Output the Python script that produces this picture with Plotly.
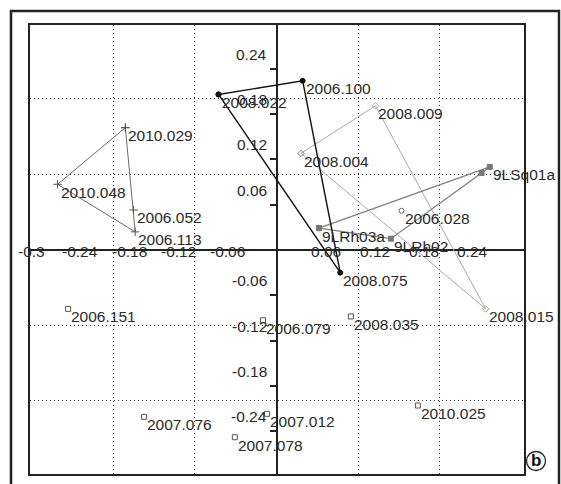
import plotly.graph_objects as go

# ---------------- data ----------------
# group A (thin dark-gray polygon)
grp_a_labels = ["2010.029", "2006.052", "2006.113", "2010.048"]
grp_a_x = [-0.185, -0.175, -0.173, -0.268]
grp_a_y = [0.162, 0.053, 0.024, 0.087]

# group B (black polygon)
grp_b_labels = ["2008.022", "2006.100", "2008.075"]
grp_b_x = [-0.071, 0.032, 0.078]
grp_b_y = [0.206, 0.224, -0.030]

# group C (light-gray polygon)
grp_c_labels = ["2008.004", "2008.009", "2008.015"]
grp_c_x = [0.030, 0.121, 0.256]
grp_c_y = [0.128, 0.191, -0.078]

# group D (gray polygon, square markers)
grp_d_labels = ["9LRh03a", "9LSq01a", "", "9LRh02"]
grp_d_x = [0.052, 0.261, 0.251, 0.140]
grp_d_y = [0.029, 0.110, 0.102, 0.015]

# isolated samples
single_labels = ["2006.151", "2006.079", "2008.035", "2010.025",
                 "2007.076", "2007.012", "2007.078"]
single_x = [-0.255, -0.0165, 0.091, 0.173, -0.162, -0.0116, -0.051]
single_y = [-0.078, -0.093, -0.088, -0.206, -0.221, -0.217, -0.248]

circle_labels = ["2006.028"]
circle_x = [0.153]
circle_y = [0.052]

# axis tick labels
x_tick_vals = [-0.3, -0.24, -0.18, -0.12, -0.06, 0.06, 0.12, 0.18, 0.24]
x_tick_text = ["-0.3", "-0.24", "-0.18", "-0.12", "-0.06", "0.06", "0.12", "0.18", "0.24"]
y_tick_vals = [0.24, 0.18, 0.12, 0.06, -0.06, -0.12, -0.18, -0.24, -0.3]
y_tick_text = ["0.24", "0.18", "0.12", "0.06", "-0.06", "-0.12", "-0.18", "-0.24", "-0.3"]
grid_vals = [-0.2, -0.1, 0.1, 0.2]

X_RANGE = [-0.3017, 0.3029]
Y_RANGE = [-0.2967, 0.298]

FONT = "Liberation Sans, Arial, sans-serif"
FS = 15.5
TXT = "#2a2a2a"

fig = go.Figure()


def closed(v):
    return list(v) + [v[0]]


def poly(xs, ys, color, width, symbol, msize, mcolor, mline=1):
    fig.add_trace(go.Scatter(
        x=closed(xs), y=closed(ys), mode="lines+markers",
        line=dict(color=color, width=width),
        marker=dict(symbol=symbol, size=msize, color=mcolor,
                    line=dict(color=mcolor, width=mline)),
        hoverinfo="skip", cliponaxis=False))


poly(grp_a_x, grp_a_y, "#6a6a6a", 1, "cross-thin", 6, "#555555")
poly(grp_c_x, grp_c_y, "#a8a8a8", 1, "diamond-open", 5, "#a0a0a0")
poly(grp_d_x, grp_d_y, "#808080", 1.3, "square", 5, "#777777")
poly(grp_b_x, grp_b_y, "#111111", 1.4, "circle", 5, "#111111")

fig.add_trace(go.Scatter(
    x=single_x, y=single_y, mode="markers",
    marker=dict(symbol="square-open", size=5, color="#555555",
                line=dict(width=1)), hoverinfo="skip"))
fig.add_trace(go.Scatter(
    x=circle_x, y=circle_y, mode="markers",
    marker=dict(symbol="circle-open", size=5, color="#666666",
                line=dict(width=1)), hoverinfo="skip"))

annotations = []


def add_labels(labels, xs, ys):
    for lab, xv, yv in zip(labels, xs, ys):
        if not lab:
            continue
        annotations.append(dict(
            x=xv, y=yv, xref="x", yref="y", text=lab, showarrow=False,
            xanchor="left", yanchor="middle", xshift=1, yshift=-8,
            font=dict(family=FONT, size=FS, color=TXT)))


add_labels(grp_a_labels, grp_a_x, grp_a_y)
add_labels(grp_b_labels, grp_b_x, grp_b_y)
add_labels(grp_c_labels, grp_c_x, grp_c_y)
add_labels(grp_d_labels, grp_d_x, grp_d_y)
add_labels(single_labels, single_x, single_y)
add_labels(circle_labels, circle_x, circle_y)

for v, t in zip(x_tick_vals, x_tick_text):
    annotations.append(dict(
        x=v, y=0, xref="x", yref="y", text=t, showarrow=False,
        xanchor="center", yanchor="middle", yshift=-2,
        font=dict(family=FONT, size=FS, color=TXT)))
for v, t in zip(y_tick_vals, y_tick_text):
    annotations.append(dict(
        x=0, y=v, xref="x", yref="y", text=t, showarrow=False,
        xanchor="right", yanchor="middle", xshift=-8, yshift=14.5,
        font=dict(family=FONT, size=FS, color=TXT)))

# panel letter
annotations.append(dict(
    x=1.0243, y=0.029, xref="paper", yref="paper", text="<b>b</b>",
    showarrow=False, xanchor="center", yanchor="middle",
    font=dict(family=FONT, size=17, color="#111111")))

zero_frac = (0 - X_RANGE[0]) / (X_RANGE[1] - X_RANGE[0])

GRID = dict(showgrid=True, gridcolor="#333333", griddash="1px,3px", gridwidth=1)

fig.update_layout(
    width=561, height=484, autosize=False,
    margin=dict(l=30, r=37, t=25, b=10, pad=0),
    paper_bgcolor="white", plot_bgcolor="white",
    showlegend=False,
    xaxis=dict(range=X_RANGE, tickmode="array", tickvals=grid_vals,
               showticklabels=False, ticks="", **GRID,
               zeroline=True, zerolinecolor="#222222", zerolinewidth=1.6,
               showline=True, linecolor="#222222", linewidth=2, mirror=True),
    yaxis=dict(range=Y_RANGE, tickmode="array", tickvals=grid_vals,
               showticklabels=False, ticks="", **GRID,
               zeroline=True, zerolinecolor="#222222", zerolinewidth=1.6,
               showline=True, linecolor="#222222", linewidth=2, mirror=True),
    yaxis2=dict(range=Y_RANGE, overlaying="y", anchor="free",
                position=zero_frac, side="left",
                tickmode="array", tickvals=y_tick_vals,
                ticks="outside", ticklen=7, tickwidth=1.5, tickcolor="#222222",
                showticklabels=False, showgrid=False, zeroline=False,
                showline=False),
    annotations=annotations,
    shapes=[
        dict(type="rect", xref="paper", yref="paper",
             x0=(11 - 30) / 494, x1=(559 - 30) / 494,
             y0=(474 - 492) / 449, y1=(474 - 11) / 449,
             line=dict(color="#222222", width=2.5), layer="above"),
        dict(type="circle", xref="paper", yref="paper",
             x0=(526.5 - 30) / 494, x1=(545.5 - 30) / 494,
             y0=(474 - 470.5) / 449, y1=(474 - 451.5) / 449,
             line=dict(color="#222222", width=1.3)),
    ],
)

# invisible trace so yaxis2 is rendered
fig.add_trace(go.Scatter(x=[None], y=[None], yaxis="y2", hoverinfo="skip"))

fig.write_html("out.html",
               config={"displayModeBar": False},
               post_script="document.body.style.margin='0px';"
                           "document.body.style.overflow='hidden';")
